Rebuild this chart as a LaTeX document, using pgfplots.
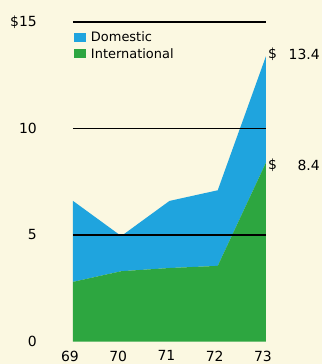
\documentclass[border=0pt]{standalone}
\usepackage{pgfplots}
\pgfplotsset{compat=1.18}
\usepackage{fontspec}
\setmainfont{DejaVu Sans}
\definecolor{bg}{HTML}{FBF8E1}
\definecolor{dblue}{HTML}{1FA4DE}
\definecolor{igreen}{HTML}{2DA640}
\begin{document}
\begin{tikzpicture}
\fill[bg] (-73bp,-22.5bp) rectangle (249bp,341.5bp);
\begin{axis}[
  at={(0,0)}, anchor=south west,
  scale only axis, width=193bp, height=319.5bp,
  xmin=69, xmax=73, ymin=0, ymax=15,
  clip=false,
  axis line style={draw=none},
  major tick length=0pt,
  stack plots=y,
  axis on top,
  xtick={69,70,71,72,73},
  xticklabels={69,70,71,72,73},
  ytick={5,10,15},
  yticklabels={5,10,\raisebox{-5bp}{\$15}},
  extra y ticks={0},
  extra y tick labels={0},
  extra y tick style={ymajorgrids=false},
  ymajorgrids,
  major grid style={black, line width=1.3bp},
  /pgf/number format/assume math mode=true,
  tick label style={font=\fontsize{14}{16}\selectfont, inner sep=0pt},
  yticklabel style={anchor=east, xshift=-36bp},
  xticklabel style={anchor=north, yshift=-9bp, xshift=-3bp},
  legend style={draw=none, fill=none, at={(0,1)}, anchor=north west,
    xshift=1bp, yshift=-8bp, inner sep=0pt, outer sep=0pt,
    font=\fontsize{13}{15}\selectfont, row sep=1bp,
    /tikz/every odd column/.append style={column sep=2.5bp}},
  legend image code/.code={\fill[#1] (0bp,-4.5bp) rectangle (12.5bp,4.5bp);},
  legend cell align=left,
  reverse legend,
]
\addplot[fill=igreen, draw=none] coordinates {(69,2.8) (70,3.3) (71,3.45) (72,3.55) (73,8.4)} \closedcycle;
\addplot[fill=dblue, draw=none] coordinates {(69,3.8) (70,1.65) (71,3.15) (72,3.55) (73,5.0)} \closedcycle;
\legend{International, Domestic}
\node[anchor=west, inner sep=0pt, font=\fontsize{14}{16}\selectfont] at (axis cs:73,13.4) [xshift=2bp, yshift=2bp] {\$};
\node[anchor=east, inner sep=0pt, font=\fontsize{14}{16}\selectfont] at (axis cs:73,13.4) [xshift=54bp, yshift=2bp] {13.4};
\node[anchor=west, inner sep=0pt, font=\fontsize{14}{16}\selectfont] at (axis cs:73,8.4) [xshift=2bp, yshift=-3bp] {\$};
\node[anchor=east, inner sep=0pt, font=\fontsize{14}{16}\selectfont] at (axis cs:73,8.4) [xshift=54bp, yshift=-3bp] {8.4};
\end{axis}
\pgfresetboundingbox
\path[use as bounding box] (-73bp,-22.5bp) rectangle (249bp,341.5bp);
\end{tikzpicture}
\end{document}
